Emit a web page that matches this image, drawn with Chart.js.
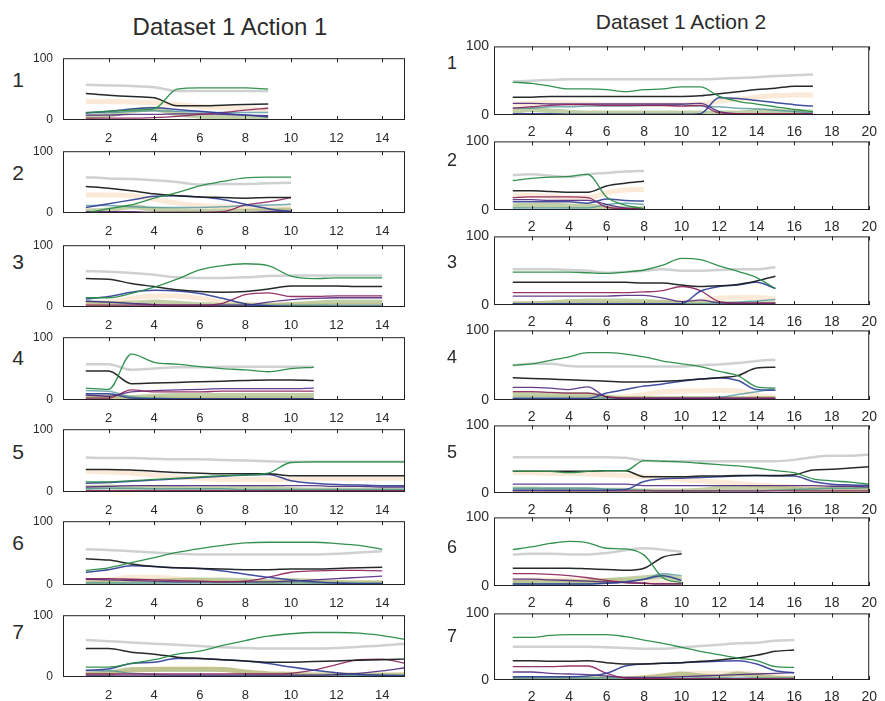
<!DOCTYPE html>
<html>
<head>
<meta charset="utf-8">
<script src="https://cdn.jsdelivr.net/npm/chart.js@4.4.0/dist/chart.umd.min.js"></script>
<style>
  body { margin: 0; background: #fff; width: 885px; height: 701px; position: relative; overflow: hidden;
         font-family: "Liberation Sans", Arial, sans-serif; color: #2b2b2b; }
  .title { position: absolute; white-space: nowrap; transform: translate(-50%, -50%); }
  .row { position: absolute; transform: translate(-50%, -50%); }
  .panel { position: absolute; }
</style>
</head>
<body>
<div class="title" style="left:230px;top:27px;font-size:24px">Dataset 1 Action 1</div>
<div class="title" style="left:681px;top:22px;font-size:21px">Dataset 1 Action 2</div>
<div id="root"></div>
<script>
// tick labels
const xTicksA1 = [2, 4, 6, 8, 10, 12, 14];
const xTicksA2 = [2, 4, 6, 8, 10, 12, 14, 16, 18, 20];
const yTicks = [0, 100];
const rowNames = ['1', '2', '3', '4', '5', '6', '7'];

// Action 1, one list per row (x = 1, 2, 3 ...)
const greenA1 = [
  [12,14,16,18,50,52,52,52,50],
  [0,7,13,24,33,44,51,57,58,58],
  [15,15,22,32,45,60,67,70,67,50,46,47,47,47],
  [19,17,73,60,57,53,50,48,45,50,52],
  [16,16,18,20,22,24,26,27,30,47,48,48,48,48,48],
  [23,27,35,43,51,57,62,66,67,67,67,65,62,56],
  [16,16,22,28,37,42,51,59,66,70,72,72,71,67,61]
];
const blackA1 = [
  [43,40,38,36,23,23,24,25,26],
  [43,40,36,31,28,26,25,24,25,25],
  [46,45,38,33,28,25,24,25,29,34,34,34,33,33],
  [46,46,26,27,28,29,30,31,32,32,31],
  [36,36,35,33,31,30,29,29,29,26,26,26,26,26,26],
  [41,39,33,29,27,26,25,24,24,25,25,26,27,28],
  [46,46,40,37,32,30,28,26,24,24,25,26,27,28,29]
];
const blueA1 = [
  [11,14,18,20,17,14,11,8,5],
  [9,15,21,27,28,26,22,14,7,2],
  [13,17,24,27,26,22,14,5,2,1,1,1,1,1],
  [10,10,3,2,2,2,2,2,2,2,2],
  [14,15,17,19,21,23,25,27,28,18,14,12,11,10,10],
  [20,24,30,29,27,26,22,17,12,8,5,3,2,2],
  [11,13,22,24,30,30,28,26,22,16,11,7,4,3,2]
];
const magentaA1 = [
  [3,3,3,4,6,9,12,16,19],
  [1,1,1,1,1,1,2,13,18,25],
  [3,3,3,3,3,3,6,20,23,17,17,18,18,18],
  [3,3,16,13,13,13,14,14,14,14,14],
  [2,2,2,2,2,2,2,2,2,2,2,2,2,2,2],
  [10,10,9,8,7,6,5,6,12,20,22,23,23,22],
  [5,5,5,5,5,5,5,5,5,6,11,20,28,29,22]
];
const purpleA1 = [
  [8,8,9,9,10,10,9,8,7],
  [2,2,2,1,1,1,1,1,2,3],
  [9,8,6,4,3,3,3,3,8,12,14,15,15,15],
  [8,6,13,15,16,17,18,18,18,18,19],
  [8,9,10,10,10,10,10,10,10,10,10,9,9,8,8],
  [9,8,7,6,5,5,5,5,5,6,8,10,12,14],
  [3,3,3,3,3,3,3,3,3,3,3,4,6,10,15]
];
const tealA1 = [
  [12,12,14,15,14,13,12,12,12],
  [12,12,10,9,9,9,10,12,13,14],
  [10,8,5,3,3,3,3,3,3,3,3,3,3,3],
  [15,14,5,3,2,2,2,2,2,2,2],
  [5,6,6,5,5,5,5,4,4,4,4,4,4,4,4],
  [3,3,3,3,3,3,3,3,3,3,3,3,3,3],
  [10,10,6,4,3,3,3,3,3,3,3,3,3,3,3]
];
const grayA1 = [
  [57,56,55,53,47,47,47,47,47],
  [58,56,55,53,50,46,47,47,48,49],
  [58,57,55,52,48,47,47,48,50,51,51,51,51,51],
  [57,57,48,50,52,52,53,53,53,53,53],
  [55,54,54,53,52,52,51,50,49,48,48,48,48,48,48],
  [56,55,53,51,49,48,48,48,48,48,48,49,51,53],
  [60,58,56,54,52,50,48,47,46,46,46,47,49,51,54]
];
const oliveA1 = [
  [5,8,15,18,10,6,4,3,3],
  [3,5,10,6,4,3,3,3,4,5],
  [6,5,6,8,6,4,3,3,3,4,6,8,8,8],
  [5,5,4,6,7,7,7,7,7,7,7],
  [7,8,6,7,6,5,5,7,6,4,3,3,3,3,3],
  [3,4,6,6,7,8,8,7,5,7,6,4,3,3],
  [4,6,12,12,12,12,12,8,5,4,3,3,3,3,3]
];
const peachA1 = [
  [30,30,29,28,25,22,20,18,16],
  [29,29,28,22,16,12,10,9,8,8],
  [5,8,14,18,18,14,8,4,3,3,3,3,3,3],
  [3,3,2,2,2,2,2,2,2,2,2],
  [33,32,30,27,24,22,20,20,20,20,22,22,22,22,22],
  [6,8,12,12,10,7,5,4,4,4,4,4,4,4],
  [5,6,10,13,14,14,12,8,6,5,4,4,4,4,4]
];

// Action 2
const greenA2 = [
  [48,46,42,38,38,37,34,37,38,41,41,27,20,16,12,8,5],
  [43,46,48,49,52,19,7,2],
  [48,48,48,48,47,46,48,51,58,68,66,57,49,40,24],
  [50,52,57,62,68,68,66,62,56,52,48,41,35,19,17],
  [32,32,32,30,32,33,33,48,47,46,44,42,40,37,33,30,21,18,16,13],
  [53,57,62,65,63,55,54,45,12,5],
  [64,64,67,68,68,68,65,60,55,49,43,38,33,29,20,19]
];
const blackA2 = [
  [26,26,27,27,27,27,27,27,27,27,28,31,34,37,39,42,42],
  [28,28,27,26,26,35,39,42],
  [33,33,33,33,33,33,33,32,32,29,27,28,30,35,42],
  [32,31,30,29,28,27,26,26,27,28,30,32,35,46,47],
  [32,32,32,32,32,33,33,24,24,24,25,25,26,26,26,27,34,35,37,39],
  [26,26,26,26,25,24,23,26,42,47],
  [29,29,28,28,29,26,24,24,25,26,28,30,33,37,43,45]
];
const blueA2 = [
  [2,2,2,1,1,1,1,1,1,1,2,25,24,21,18,15,13],
  [12,12,12,12,10,16,14,13],
  [2,2,2,2,2,2,2,2,2,2,20,27,29,33,24],
  [2,2,2,2,2,10,15,20,23,27,30,32,28,15,14],
  [4,4,4,4,4,4,5,17,21,22,23,24,25,26,25,25,17,13,12,11],
  [3,3,3,3,3,4,6,10,15,8],
  [5,5,5,5,6,10,21,24,25,26,27,28,29,24,14,11]
];
const magentaA2 = [
  [10,12,14,15,15,14,14,14,14,13,14,3,2,2,2,2,2],
  [18,19,19,19,18,4,2,2],
  [18,18,18,18,18,18,18,19,21,27,21,5,3,3,3],
  [12,12,11,10,10,5,3,3,3,3,3,3,3,3,3],
  [3,3,3,3,3,3,3,3,3,3,3,3,3,3,3,3,3,3,3,3],
  [18,18,17,15,12,8,5,4,3,3],
  [20,20,20,21,21,10,3,2,2,2,2,2,2,2,2,2]
];
const purpleA2 = [
  [17,17,16,16,16,16,16,16,16,16,17,5,2,1,1,1,1],
  [15,15,14,14,14,8,3,2],
  [13,13,13,13,13,13,14,14,10,5,7,3,2,2,2],
  [18,18,17,15,19,4,2,2,2,2,2,2,2,2,2],
  [13,13,13,13,13,13,13,11,11,11,11,11,11,11,11,11,11,10,10,9],
  [10,10,9,8,7,6,5,4,3,3],
  [12,12,10,9,8,6,4,4,4,5,6,7,8,9,10,11]
];
const tealA2 = [
  [10,10,12,12,13,13,13,14,14,15,13,12,10,9,7,5,3],
  [3,3,3,3,3,8,10,8],
  [2,2,2,2,2,2,2,2,2,2,2,3,4,6,8],
  [3,3,3,3,3,3,3,3,3,3,3,4,8,12,16],
  [7,7,7,7,7,6,5,4,3,3,3,3,3,3,4,5,6,7,7,8],
  [3,3,3,3,3,4,6,10,18,15],
  [3,3,3,3,3,3,3,3,3,3,3,3,3,3,3,3]
];
const grayA2 = [
  [49,50,51,52,52,52,52,52,52,52,52,53,54,55,57,58,59],
  [51,52,50,48,52,54,56,57],
  [52,52,52,51,50,47,48,50,52,50,50,51,52,52,55],
  [50,52,52,49,48,48,48,48,48,48,50,51,53,56,58],
  [53,53,53,53,53,53,52,48,47,47,47,47,47,47,47,49,53,55,55,57],
  [46,47,47,46,46,48,52,55,53,50],
  [50,50,50,50,50,49,48,47,47,49,51,53,55,56,59,60]
];
const oliveA2 = [
  [5,8,6,4,3,3,3,3,3,3,3,3,3,5,6,5,4],
  [6,7,7,6,6,3,2,2],
  [2,2,3,5,6,6,6,5,4,2,2,2,2,2,2],
  [8,8,8,8,8,4,2,2,2,2,2,2,2,2,2],
  [6,6,5,5,5,4,4,3,3,3,4,7,8,8,7,6,5,5,5,5],
  [5,6,6,6,6,8,10,12,14,10],
  [2,2,2,2,2,2,2,3,6,9,6,5,9,6,3,2]
];
const peachA2 = [
  [16,17,18,17,16,15,15,15,15,15,16,20,23,26,28,29,29],
  [22,21,20,18,18,25,29,30],
  [2,2,2,2,2,2,2,2,3,4,6,10,11,11,9],
  [3,3,3,3,3,3,5,8,12,13,13,14,13,7,4],
  [30,30,29,29,28,27,26,24,22,20,18,16,14,12,10,9,8,8,8,8],
  [8,9,9,9,8,8,7,6,5,4],
  [2,2,2,2,2,2,2,4,7,9,10,10,10,9,5,3]
];

// layout of the plot boxes (pixels)
const plotLeft = [63, 494];
const plotWidth = [342, 378];
const plotTops = [[51,144,238,330,422,514,608], [43,138,233,327,422,514,610]];
const plotBottoms = [[120,213,307,400,492,585,677], [115,210,305,400,493,586,680]];
const rowLabelX = [18, 452];
const rowLabelY = [[80,173,262,358,452,543,632], [63,160,262,357,452,547,636]];

const lineStyle = {
  green:   { color: 'rgba(40,140,70,0.95)',   width: 1.3 },
  black:   { color: 'rgba(25,30,30,0.95)',    width: 1.5 },
  blue:    { color: 'rgba(45,60,150,0.9)',    width: 1.5 },
  magenta: { color: 'rgba(140,30,90,0.9)',    width: 1.3 },
  purple:  { color: 'rgba(80,40,130,0.9)',    width: 1.3 },
  teal:    { color: 'rgba(60,140,150,0.7)',   width: 1.5 },
  gray:    { color: 'rgba(190,194,194,0.75)', width: 2.5 },
  olive:   { color: 'rgba(120,150,60,0.45)',  width: 5 },
  peach:   { color: 'rgba(240,195,140,0.35)', width: 5 }
};

const columns = [
  { xMax: 15, xTicks: xTicksA1, tickSize: 13, tickPad: 11, ySize: 12, yPad: 10, rowSize: 21,
    series: { green: greenA1, black: blackA1, blue: blueA1, magenta: magentaA1, purple: purpleA1,
              teal: tealA1, gray: grayA1, olive: oliveA1, peach: peachA1 } },
  { xMax: 20, xTicks: xTicksA2, tickSize: 14, tickPad: 9, ySize: 14, yPad: 5, rowSize: 18,
    series: { green: greenA2, black: blackA2, blue: blueA2, magenta: magentaA2, purple: purpleA2,
              teal: tealA2, gray: grayA2, olive: oliveA2, peach: peachA2 } }
];

// box round the plot plus small inward x ticks
const framePlugin = {
  id: 'frame',
  afterDatasetsDraw(chart) {
    const { ctx, chartArea: a, scales } = chart;
    ctx.save();
    ctx.strokeStyle = '#222';
    ctx.lineWidth = 1;
    ctx.strokeRect(a.left + 0.5, a.top + 0.5, a.width - 1, a.height - 1);
    ctx.beginPath();
    scales.x.ticks.forEach(t => {
      const px = Math.round(scales.x.getPixelForValue(t.value)) + 0.5;
      ctx.moveTo(px, a.top); ctx.lineTo(px, a.top + 4);
      ctx.moveTo(px, a.bottom); ctx.lineTo(px, a.bottom - 4);
    });
    ctx.stroke();
    ctx.restore();
  }
};

const FONT = '"Liberation Sans", Arial, sans-serif';
const root = document.getElementById('root');
const PAD_L = 40, PAD_T = 10, PAD_R = 14, AX_H = 32;

columns.forEach((col, c) => {
  rowNames.forEach((name, r) => {
    const lab = document.createElement('div');
    lab.className = 'row';
    lab.textContent = name;
    lab.style.left = rowLabelX[c] + 'px';
    lab.style.top = rowLabelY[c][r] + 'px';
    lab.style.fontSize = col.rowSize + 'px';
    root.appendChild(lab);

    const top = plotTops[c][r], h = plotBottoms[c][r] - top;
    const w = plotWidth[c];
    const canvas = document.createElement('canvas');
    canvas.className = 'panel';
    canvas.width = w + PAD_L + PAD_R;
    canvas.height = h + PAD_T + AX_H;
    canvas.style.left = (plotLeft[c] - PAD_L) + 'px';
    canvas.style.top = (top - PAD_T) + 'px';
    canvas.style.width = canvas.width + 'px';
    canvas.style.height = canvas.height + 'px';
    root.appendChild(canvas);

    const datasets = Object.keys(col.series).map(key => ({
      label: key,
      data: col.series[key][r].map((v, i) => ({ x: i + 1, y: v })),
      borderColor: lineStyle[key].color,
      borderWidth: lineStyle[key].width,
      pointRadius: 0,
      cubicInterpolationMode: 'monotone',
      fill: false
    }));

    new Chart(canvas, {
      type: 'line',
      data: { datasets },
      options: {
        responsive: false,
        animation: false,
        layout: { padding: { left: 0, top: PAD_T, right: PAD_R, bottom: 0 } },
        plugins: { legend: { display: false }, tooltip: { enabled: false } },
        scales: {
          x: {
            type: 'linear', min: 0, max: col.xMax,
            grid: { display: false, drawTicks: false },
            border: { display: false },
            afterBuildTicks: s => { s.ticks = col.xTicks.map(v => ({ value: v })); },
            afterFit: s => { s.height = AX_H; },
            ticks: { padding: col.tickPad, maxRotation: 0, autoSkip: false, color: '#2b2b2b',
                     font: { family: FONT, size: col.tickSize } }
          },
          y: {
            min: 0, max: 100,
            grid: { display: false, drawTicks: false },
            border: { display: false },
            afterBuildTicks: s => { s.ticks = yTicks.map(v => ({ value: v })); },
            afterFit: s => { s.width = PAD_L; },
            ticks: { padding: col.yPad, color: '#2b2b2b',
                     font: { family: FONT, size: col.ySize } }
          }
        }
      },
      plugins: [framePlugin]
    });
  });
});
</script>
</body>
</html>
